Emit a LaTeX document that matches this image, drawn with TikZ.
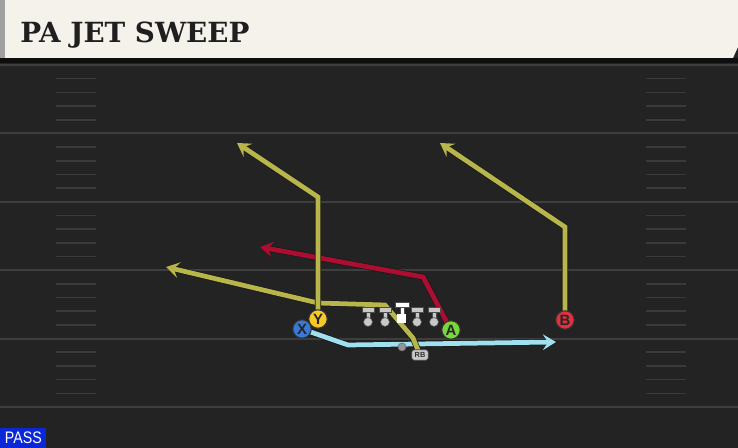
\documentclass[tikz,border=0pt]{standalone}
\usepackage{fontspec}
\setmainfont{DejaVu Serif}
\setsansfont{Liberation Sans}
\usetikzlibrary{arrows.meta}
\definecolor{fieldbg}{RGB}{35,35,35}
\definecolor{fieldline}{RGB}{62,62,62}
\definecolor{hashmark}{RGB}{58,58,58}
\definecolor{headerbg}{RGB}{245,242,236}
\definecolor{headeredge}{RGB}{160,160,160}
\definecolor{passblue}{RGB}{10,40,215}
\definecolor{xblue}{RGB}{58,120,215}
\definecolor{yyellow}{RGB}{248,200,40}
\definecolor{agreen}{RGB}{120,215,60}
\definecolor{bred}{RGB}{228,48,62}
\definecolor{redroute}{RGB}{172,14,50}
\definecolor{yellowroute}{RGB}{184,181,74}
\definecolor{blueroute}{RGB}{160,225,240}
\definecolor{olgray}{RGB}{200,200,200}
\pgfdeclarelayer{field}
\pgfdeclarelayer{routes}
\pgfsetlayers{field,routes,main}
\tikzset{
  player/.style={circle, draw=black!80, line width=0.6pt, minimum size=10.5pt, inner sep=0pt,
    font=\sffamily\bfseries\fontsize{8.5}{8.5}\selectfont, text=black!85},
  route/.style={line width=2.7pt, line join=miter, -{Stealth[length=7.5pt,width=9pt,inset=3pt]},
    preaction={draw=black!90, line width=3.5pt, -{Stealth[length=8pt,width=10pt,inset=3.2pt]}}},
  lineman/.style={fill=olgray, draw=black!70, line width=0.3pt},
}
\begin{document}
\begin{tikzpicture}[x=0.02cm, y=-0.02cm]
\useasboundingbox (0,0) rectangle (738,448);
\begin{pgfonlayer}{field}
\fill[fieldbg] (0,0) rectangle (738,448);
\fill[black!60!fieldbg] (0,58) rectangle (738,63);
% yard lines and hashes
\foreach \k in {0,5,...,25}
  \draw[fieldline, line width=1.2pt] (0,65+13.68*\k) -- (738,65+13.68*\k);
\foreach \k in {1,...,24}{
  \pgfmathtruncatemacro\m{mod(\k,5)}
  \ifnum\m>0
    \draw[hashmark, line width=0.9pt] (56,65+13.68*\k) -- (96,65+13.68*\k);
    \draw[hashmark, line width=0.9pt] (646,65+13.68*\k) -- (686,65+13.68*\k);
  \fi}
\end{pgfonlayer}
% header
\fill[headerbg] (5,0) -- (738,0) -- (738,47) -- (733,58) -- (5,58) -- cycle;
\fill[headeredge] (0,0) rectangle (5,58);
\node[anchor=base west, inner sep=0pt, font=\bfseries\fontsize{15.8}{15.8}\selectfont, text=black!88] (title) at (20,43) {PA JET SWEEP};
% players
\node[player, fill=xblue] (X) at (302,329) {X};
\node[player, fill=yyellow] (Y) at (318,319) {Y};
\node[player, fill=agreen] (A) at (451,330) {A};
\node[player, fill=bred] (B) at (565,320) {B};
\node[circle, fill=black!42, draw=black!60, line width=0.3pt, minimum size=4.6pt, inner sep=0pt] (QB) at (402,347) {};
\node[rounded corners=1.5pt, fill=olgray, draw=black!75, line width=0.4pt, minimum width=9.5pt, minimum height=6pt, inner sep=0pt,
  font=\sffamily\bfseries\fontsize{4.2}{4.2}\selectfont, text=black!80] (RB) at (420,355) {RB};
% offensive line
\foreach \x in {368,385,417,434}{
  \fill[lineman] (\x-6,307.5) rectangle (\x+6,312.5);
  \fill[lineman] (\x-2,312.5) rectangle (\x+2,320);
  \fill[lineman] (\x,322) circle (4.5);}
\fill[white, draw=black!70, line width=0.3pt] (395,302.5) rectangle (409,307.5);
\fill[white, draw=black!70, line width=0.3pt] (400,307.5) rectangle (404,314);
\node[fill=white, minimum size=5.2pt, inner sep=0pt] (C) at (401.5,318.5) {};
% route waypoints
\coordinate (xa) at (348,345);
\coordinate (xb) at (556,342);
\coordinate (ra) at (423,277);
\coordinate (rb) at (260,247);
\coordinate (ya) at (318,197);
\coordinate (yb) at (237,143);
\coordinate (ba) at (565,227);
\coordinate (bb) at (440,143);
\coordinate (pa) at (413,338);
\coordinate (pb) at (385,305);
\coordinate (pc) at (318,303);
\coordinate (pd) at (166,267);
\begin{pgfonlayer}{routes}
\draw[route, blueroute] (X.center) -- (xa) -- (xb);
\draw[route, redroute] (A.center) -- (ra) -- (rb);
\draw[route, yellowroute] (RB.center) -- (pa) -- (pb) -- (pc) -- (pd);
\draw[route, yellowroute] (Y.center) -- (ya) -- (yb);
\draw[route, yellowroute] (B.center) -- (ba) -- (bb);
\end{pgfonlayer}
% play type
\node[fill=passblue, anchor=south west, minimum width=46*0.02cm, minimum height=20*0.02cm, inner sep=0pt,
  text=white, font=\sffamily\fontsize{9.5}{9.5}\selectfont] (pass) at (0,448) {\scalebox{0.85}[1]{PASS}};
\end{tikzpicture}
\end{document}
